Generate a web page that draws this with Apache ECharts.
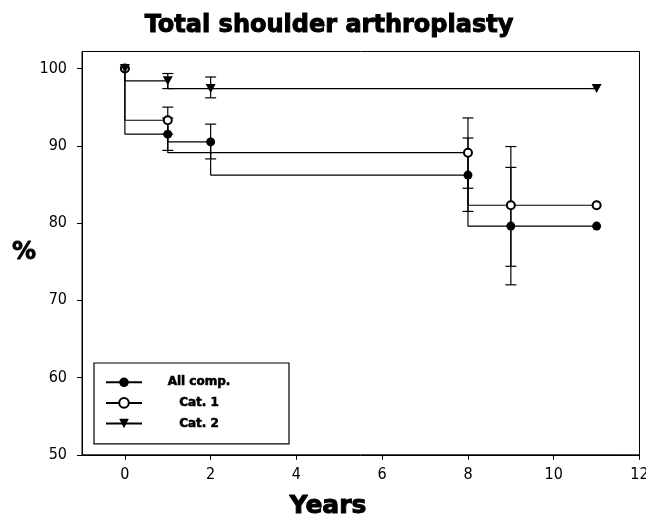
<!DOCTYPE html>
<html>
<head>
<meta charset="utf-8">
<script src="https://cdn.jsdelivr.net/npm/echarts@6/dist/echarts.min.js"></script>
<style>
html,body{margin:0;padding:0;background:#fff;overflow:hidden;}
#chart{width:646px;height:518px;}
</style>
</head>
<body>
<div id="chart"></div>
<script>
// ---- data ----
const seriesNames = ['All comp.', 'Cat. 1', 'Cat. 2'];

const allX = [0, 1, 2, 8, 9, 11];
const allY = [100, 91.5, 90.5, 86.2, 79.6, 79.6];
const allErrX = [1, 2, 8, 9];
const allErrLo = [89.4, 88.3, 81.5, 72.0];
const allErrHi = [93.6, 92.8, 91.0, 87.2];

const cat1X = [0, 1, 8, 9, 11];
const cat1Y = [100, 93.3, 89.1, 82.3, 82.3];
const cat1ErrX = [1, 8, 9];
const cat1ErrLo = [91.5, 84.5, 74.4];
const cat1ErrHi = [95.0, 93.6, 89.9];

const cat2X = [0, 1, 2, 11];
const cat2Y = [100, 98.4, 97.4, 97.4];
const cat2ErrX = [1, 2];
const cat2ErrLo = [97.4, 96.2];
const cat2ErrHi = [99.35, 98.9];

const xTicks = [0, 2, 4, 6, 8, 10, 12];
const yTicks = [50, 60, 70, 80, 90, 100];

const titleText = 'Total shoulder arthroplasty';
const xName = 'Years';
const yName = '%';

// ---- build ----
function zip(xs, ys) { return xs.map((x, i) => [x, ys[i]]); }
function zip3(xs, lo, hi) { return xs.map((x, i) => [x, lo[i], hi[i]]); }

const BLACK = '#000';
const LW = 1.2;

function errRender(params, api) {
  const x = api.value(0);
  const lo = api.coord([x, api.value(1)]);
  const hi = api.coord([x, api.value(2)]);
  const w = 5.5;
  const st = { stroke: BLACK, lineWidth: LW };
  return {
    type: 'group',
    children: [
      { type: 'line', shape: { x1: lo[0], y1: lo[1], x2: hi[0], y2: hi[1] }, style: st },
      { type: 'line', shape: { x1: lo[0] - w, y1: lo[1], x2: lo[0] + w, y2: lo[1] }, style: st },
      { type: 'line', shape: { x1: hi[0] - w, y1: hi[1], x2: hi[0] + w, y2: hi[1] }, style: st }
    ]
  };
}

function errSeries(data) {
  return {
    type: 'custom',
    renderItem: errRender,
    data: data,
    encode: { x: 0, y: [1, 2] },
    z: 1,
    silent: true
  };
}

const labelFont = "'Liberation Sans Narrow', 'DejaVu Sans Condensed', 'Liberation Sans', sans-serif";
const boldFont = "'DejaVu Sans', sans-serif";

const chart = echarts.init(document.getElementById('chart'), null, { renderer: 'canvas' });

const option = {
  animation: false,
  backgroundColor: '#fff',
  grid: {
    left: 82, right: 6.5, top: 51.5, bottom: 63.2,
    show: true, borderColor: BLACK, borderWidth: 1, backgroundColor: 'transparent',
    containLabel: false,
    outerBoundsMode: 'none'
  },
  xAxis: {
    type: 'value', min: -1, max: 12,
    axisLine: { show: true, onZero: false, lineStyle: { color: BLACK, width: 1 } },
    axisTick: { show: true, length: 5, customValues: xTicks, lineStyle: { color: BLACK, width: 1 } },
    axisLabel: { customValues: xTicks, color: BLACK, fontSize: 16, fontFamily: labelFont, margin: 12, hideOverlap: false },
    splitLine: { show: false }
  },
  yAxis: {
    type: 'value', min: 50, max: 102.2,
    axisLine: { show: true, onZero: false, lineStyle: { color: BLACK, width: 1 } },
    axisTick: { show: true, length: 5, customValues: yTicks, lineStyle: { color: BLACK, width: 1 } },
    axisLabel: { customValues: yTicks, color: BLACK, fontSize: 16, fontFamily: labelFont, margin: 15 },
    splitLine: { show: false }
  },
  legend: {
    data: seriesNames,
    orient: 'vertical',
    left: 94, top: 363,
    padding: [13, 38, 14, 11],
    itemWidth: 36, itemHeight: 12, itemGap: 8,
    borderColor: BLACK, borderWidth: 1.2,
    backgroundColor: '#fff',
    selectedMode: false,
    formatter: function (name) { return '{a|' + name + '}'; },
    textStyle: {
      color: BLACK,
      rich: {
        a: { width: 104, align: 'center', fontFamily: boldFont, fontWeight: 'bold', fontSize: 12, lineHeight: 12, color: BLACK,
             textBorderColor: BLACK, textBorderWidth: 0.6 }
      }
    }
  },
  graphic: [
    { type: 'text', style: { text: titleText, x: 329, y: 26, align: 'center', verticalAlign: 'middle', font: "bold 24px 'DejaVu Sans', sans-serif", fill: BLACK, stroke: BLACK, lineWidth: 1 } },
    { type: 'text', style: { text: xName, x: 328, y: 506, align: 'center', verticalAlign: 'middle', font: "bold 25px 'DejaVu Sans', sans-serif", fill: BLACK, stroke: BLACK, lineWidth: 1 } },
    { type: 'text', style: { text: yName, x: 24, y: 253, align: 'center', verticalAlign: 'middle', font: "bold 24px 'DejaVu Sans', sans-serif", fill: BLACK, stroke: BLACK, lineWidth: 0.8 } }
  ],
  series: [
    errSeries(zip3(allErrX, allErrLo, allErrHi)),
    errSeries(zip3(cat1ErrX, cat1ErrLo, cat1ErrHi)),
    errSeries(zip3(cat2ErrX, cat2ErrLo, cat2ErrHi)),
    {
      name: seriesNames[0], type: 'line', step: 'start',
      data: zip(allX, allY),
      symbol: 'circle', symbolSize: 9,
      itemStyle: { color: BLACK },
      lineStyle: { color: BLACK, width: LW },
      z: 3
    },
    {
      name: seriesNames[1], type: 'line', step: 'start',
      data: zip(cat1X, cat1Y),
      symbol: 'emptyCircle', symbolSize: 8,
      itemStyle: { color: BLACK, borderColor: BLACK, borderWidth: LW },
      lineStyle: { color: BLACK, width: LW },
      z: 3
    },
    {
      name: seriesNames[2], type: 'line', step: 'start',
      data: zip(cat2X, cat2Y),
      symbol: 'triangle', symbolRotate: 180, symbolSize: [10, 9],
      itemStyle: { color: BLACK },
      lineStyle: { color: BLACK, width: LW },
      z: 3
    }
  ]
};
chart.setOption(option);
</script>
</body>
</html>
